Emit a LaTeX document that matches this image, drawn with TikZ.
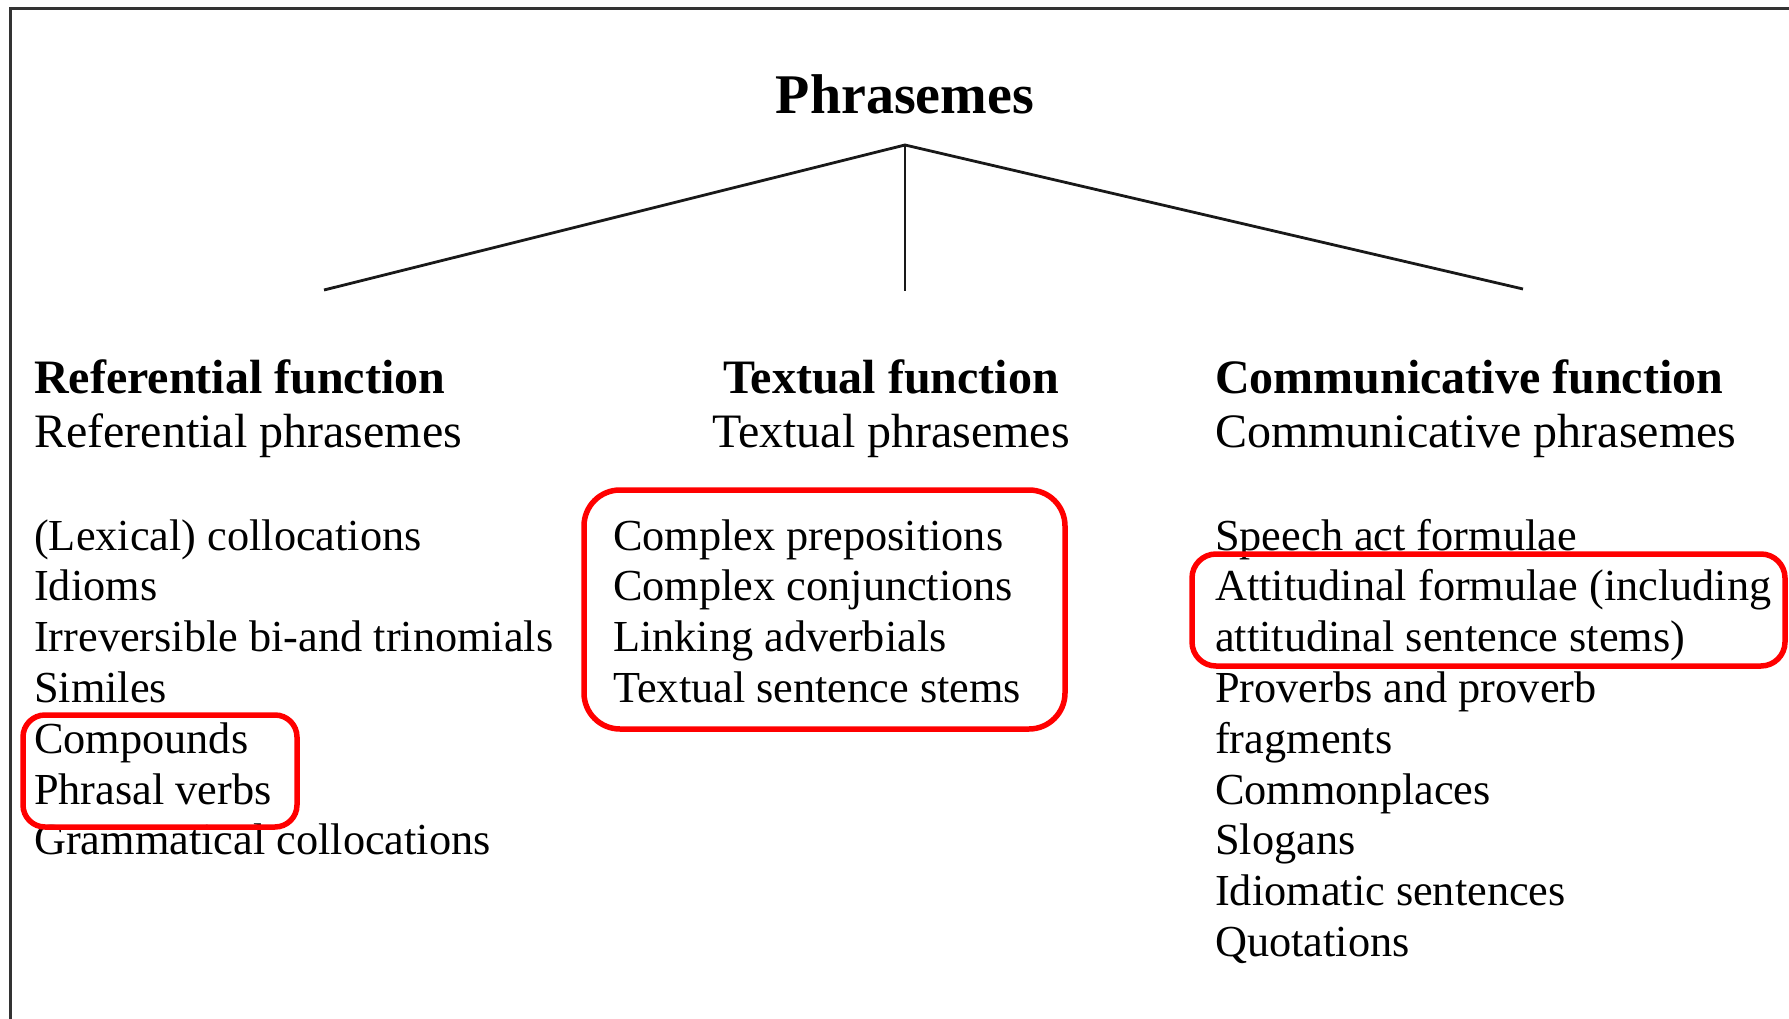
\documentclass[tikz,border=0pt]{standalone}
\usepackage{fontspec}
\setmainfont{Liberation Serif}
\begin{document}
\begin{tikzpicture}[x=1pt,y=-1pt,
  title/.style={inner sep=0pt,anchor=base,font=\fontsize{56}{62}\selectfont\bfseries},
  headb/.style={inner sep=0pt,font=\fontsize{48}{54}\selectfont\bfseries},
  headr/.style={inner sep=0pt,font=\fontsize{48}{54}\selectfont},
  item/.style={inner sep=0pt,anchor=base west,font=\fontsize{44.3}{50.8}\selectfont},
  tree/.style={line width=2.8pt,black!90},
  frame/.style={line width=3pt,black!80},
  redbox/.style={line width=5.5pt,draw=red,rounded corners=#1},
  redbox/.default=22pt]
\useasboundingbox[fill=white] (0,0) rectangle (1789,1019);
% frame
\draw[frame] (10,1040) -- (10,9) -- (1800,9);
% title and tree
\node[title] (root) at (905,114) {Phrasemes};
\coordinate (apex) at (905,145);
\coordinate (eL) at (324,290);
\coordinate (eM) at (905,291);
\coordinate (eR) at (1523,289);
\draw[tree] (eL) -- (apex) -- (eR);
\draw[tree] (apex) -- (eM);
% headings
\node[headb,anchor=base west] (hL1) at (34,393) {Referential function};
\node[headr,anchor=base west] (hL2) at (34,447) {Referential phrasemes};
\node[headb,anchor=base] (hM1) at (891,393) {Textual function};
\node[headr,anchor=base] (hM2) at (891,447) {Textual phrasemes};
\node[headb,anchor=base west] (hR1) at (1215,393) {Communicative function};
\node[headr,anchor=base west] (hR2) at (1215,447) {Communicative phrasemes};
% lists
\foreach \t [count=\i from 0] in {(Lexical) collocations,Idioms,Irreversible bi-and trinomials,Similes,Compounds,Phrasal verbs,Grammatical collocations}
  \node[item] (L\i) at (34,{550+50.8*\i}) {\t};
\foreach \t [count=\i from 0] in {Complex prepositions,Complex conjunctions,Linking adverbials,Textual sentence stems}
  \node[item] (M\i) at (613,{550+50.8*\i}) {\t};
\foreach \t [count=\i from 0] in {Speech act formulae,Attitudinal formulae (including,attitudinal sentence stems),Proverbs and proverb,fragments,Commonplaces,Slogans,Idiomatic sentences,Quotations}
  \node[item] (R\i) at (1215,{550+50.8*\i}) {\t};
% red highlight boxes
\draw[redbox=22pt] (23,715) rectangle (297,827);
\draw[redbox=36pt] (584,490) rectangle (1065,729);
\draw[redbox=24pt] (1192,554) rectangle (1785,666);
\end{tikzpicture}
\end{document}
